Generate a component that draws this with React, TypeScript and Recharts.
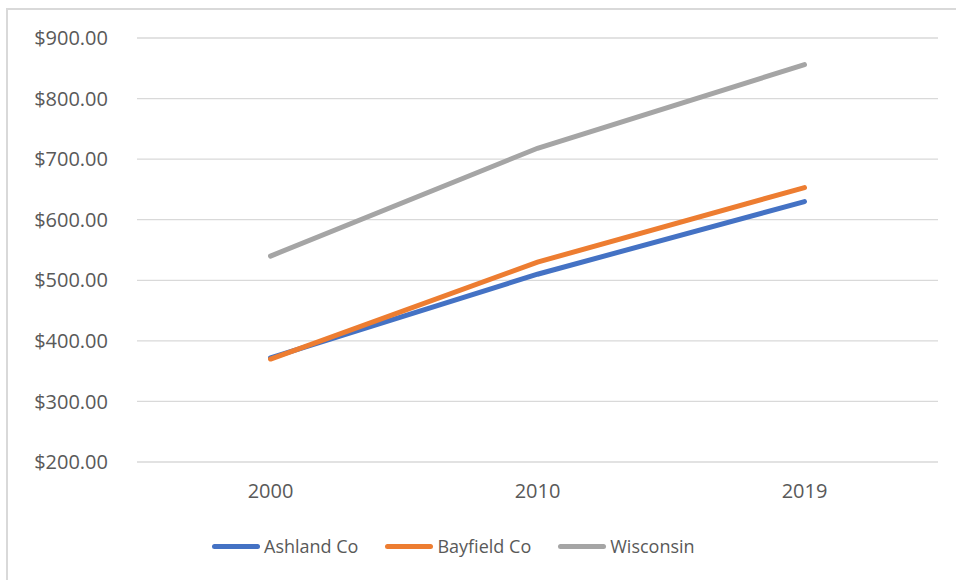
import { LineChart, Line, XAxis, YAxis, CartesianGrid } from 'recharts';

const years = ['2000', '2010', '2019'];
const ashland = [372, 510, 630];
const bayfield = [370, 530, 653];
const wisconsin = [540, 718, 856];
const yTicks = [200, 300, 400, 500, 600, 700, 800, 900];

const series = [
  { key: 'ashland', name: 'Ashland Co', color: '#4472C4' },
  { key: 'bayfield', name: 'Bayfield Co', color: '#ED7D31' },
  { key: 'wisconsin', name: 'Wisconsin', color: '#A5A5A5' },
];

const data = years.map((year, i) => ({
  year,
  ashland: ashland[i],
  bayfield: bayfield[i],
  wisconsin: wisconsin[i],
}));

const font = '"Open Sans", Lato, sans-serif';
const textColor = '#595959';
const tickStyle = { fill: textColor, fontSize: 20, fontFamily: font };

export default function App() {
  return (
    <div style={{ position: 'absolute', left: 0, top: 0, width: 956, height: 580, background: '#fff', fontFamily: font }}>
      {/* frame: only top and left edges are visible */}
      <div
        style={{
          position: 'absolute',
          left: 6,
          top: 8,
          width: 950,
          height: 572,
          borderTop: '2px solid #d9d9d9',
          borderLeft: '2px solid #d9d9d9',
        }}
      />
      <div style={{ position: 'absolute', left: 0, top: 0 }}>
        <LineChart width={956} height={580} data={data} margin={{ top: 38, right: 18, left: 0, bottom: 78 }}>
          <CartesianGrid vertical={false} stroke="#d9d9d9" strokeWidth={1.3} />
          <XAxis
            dataKey="year"
            axisLine={false}
            tickLine={false}
            tickSize={0}
            tickMargin={22}
            height={40}
            padding={{ left: 133.5, right: 133.5 }}
            tick={tickStyle}
          />
          <YAxis
            domain={[200, 900]}
            ticks={yTicks}
            width={137}
            axisLine={false}
            tickLine={false}
            tickSize={0}
            tickMargin={29}
            tickFormatter={(v: number) => `$${v.toFixed(2)}`}
            tick={tickStyle}
          />
          {series.map((s) => (
            <Line
              key={s.key}
              type="linear"
              dataKey={s.key}
              name={s.name}
              stroke={s.color}
              strokeWidth={5}
              strokeLinecap="round"
              dot={false}
              activeDot={false}
              isAnimationActive={false}
            />
          ))}
        </LineChart>
      </div>
      {/* legend */}
      <div
        style={{
          position: 'absolute',
          left: 212,
          top: 533,
          display: 'flex',
          alignItems: 'center',
          height: 26,
          fontSize: 18,
          color: textColor,
        }}
      >
        {series.map((s) => (
          <div key={s.key} style={{ display: 'flex', alignItems: 'center', marginRight: 27 }}>
            <div style={{ width: 48, height: 5, borderRadius: 3, background: s.color, marginRight: 4 }} />
            <span>{s.name}</span>
          </div>
        ))}
      </div>
    </div>
  );
}
